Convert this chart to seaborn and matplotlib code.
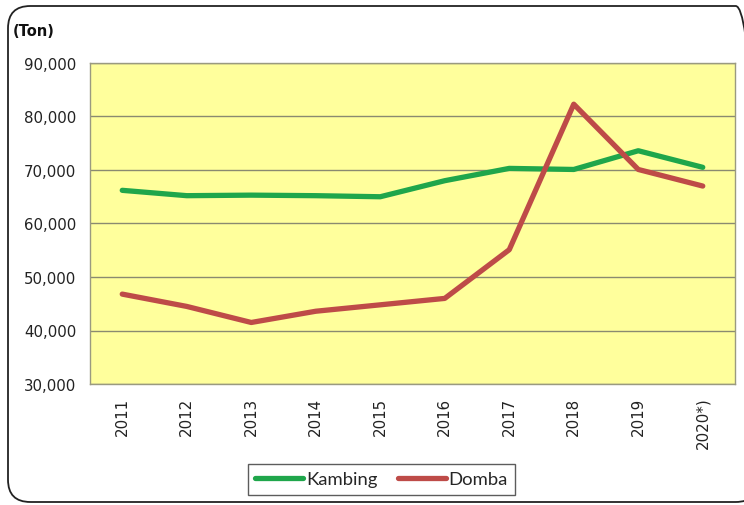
import matplotlib
matplotlib.use("Agg")
import matplotlib.pyplot as plt
import seaborn as sns
import pandas as pd
from matplotlib.patches import FancyBboxPatch
from matplotlib.lines import Line2D

years = ["2011", "2012", "2013", "2014", "2015", "2016", "2017", "2018", "2019", "2020*)"]
kambing = [66200, 65200, 65300, 65200, 65000, 68000, 70300, 70100, 73600, 70500]
domba = [46800, 44500, 41500, 43600, 44800, 46000, 55100, 82300, 70100, 67000]
yticks = [30000, 40000, 50000, 60000, 70000, 80000, 90000]

df = pd.DataFrame({
    "Tahun": years * 2,
    "Produksi": kambing + domba,
    "Jenis": ["Kambing"] * len(years) + ["Domba"] * len(years),
})

sns.set_style("white")
plt.rcParams["font.family"] = ["DejaVu Sans"]

fig = plt.figure(figsize=(7.44, 5.06), dpi=100)
ax = fig.add_axes([90 / 744, 1 - 385 / 506, 645 / 744, 321 / 506])

# rounded outer frame (right side runs off the canvas)
frame = FancyBboxPatch((8 / 744, 3 / 506), 750 / 744, 496 / 506,
                       boxstyle="round,pad=0,rounding_size=0.03",
                       transform=fig.transFigure, facecolor="none",
                       edgecolor="#222222", linewidth=1.3, zorder=0,
                       mutation_aspect=744 / 506)
fig.patches.append(frame)

ax.set_facecolor("#FFFF9C")
sns.lineplot(data=df, x="Tahun", y="Produksi", hue="Jenis",
             palette={"Kambing": "#1FA64B", "Domba": "#BE4B48"},
             linewidth=3.8, sort=False, ax=ax, legend=False)

ax.set_xlim(-0.5, len(years) - 0.5)
ax.set_ylim(30000, 90000)
ax.set_yticks(yticks)
ax.set_yticklabels([f"{v:,}" for v in yticks], fontsize=10.8, color="#222222")
ax.set_xticks(range(len(years)))
ax.set_xticklabels(years, rotation=90, fontsize=10.8, color="#222222")
ax.tick_params(axis="both", length=0, pad=10)
ax.tick_params(axis="x", pad=9)
ax.yaxis.grid(True, color="#8a8a70", linewidth=1.0)
ax.xaxis.grid(False)
ax.set_axisbelow(True)
for s in ax.spines.values():
    s.set_color("#9a9a80")
    s.set_linewidth(1.0)
ax.set_xlabel("")
ax.set_ylabel("")

fig.text(13 / 744, 1 - 31 / 506, "(Ton)", fontsize=10.5, fontweight="bold",
         ha="left", va="center", color="#111111")

handles = [Line2D([], [], color="#1FA64B", linewidth=3.8),
           Line2D([], [], color="#BE4B48", linewidth=3.8)]
leg = fig.legend(handles, ["Kambing", "Domba"], loc="center",
                 bbox_to_anchor=(381.5 / 744, 1 - 480.5 / 506), ncol=2,
                 frameon=True, fancybox=False, handlelength=2.6,
                 handletextpad=0.15, columnspacing=1.1, borderpad=0.4,
                 borderaxespad=0, prop={"family": "Lato", "size": 13.3})
leg.get_frame().set_edgecolor("#333333")
leg.get_frame().set_linewidth(1.0)

fig.savefig("out.png", dpi=100)
